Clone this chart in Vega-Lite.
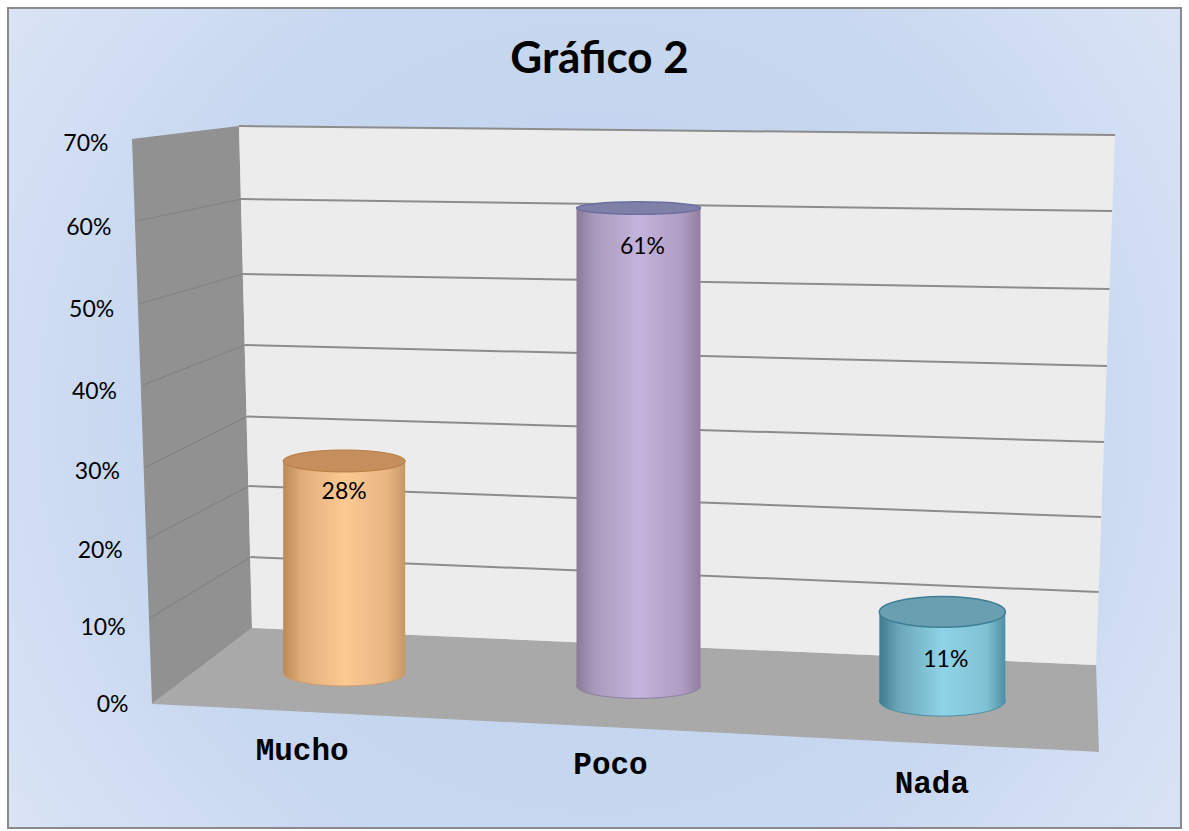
{
"$schema":"https://vega.github.io/schema/vega-lite/v6.json",
"width":1189,"height":831,"padding":0,"autosize":"none","background":"#ffffff",
"title":{"text":"Gráfico 2","font":"Lato","fontSize":44,"fontWeight":"bold","color":"#000000","anchor":"middle","frame":"group","offset":-82,"dx":5},
"datasets":{
"marco":[{"x0":8,"x1":1181,"y0":-15.47,"y1":86.85}],
"planos":[
{"superficie":"lateral","pos":132,"alto":70.5,"alto2":70.5},
{"superficie":"lateral","pos":152,"alto":70.8,"alto2":0},
{"superficie":"lateral","pos":239,"alto":72.12,"alto2":8.25},
{"superficie":"lateral","pos":252,"alto":9.48,"alto2":9.48},
{"superficie":"suelo","pos":152,"alto":0,"alto2":0},
{"superficie":"suelo","pos":252,"alto":9.48,"alto2":-0.63},
{"superficie":"suelo","pos":1096,"alto":4.87,"alto2":-5.97},
{"superficie":"suelo","pos":1099,"alto":-5.99,"alto2":-5.99},
{"superficie":"fondo","pos":239,"alto":72.12,"alto2":72.12},
{"superficie":"fondo","pos":252,"alto":72.11,"alto2":9.48},
{"superficie":"fondo","pos":1096,"alto":71.03,"alto2":4.87},
{"superficie":"fondo","pos":1115,"alto":71.0,"alto2":71.0}
],
"rejilla":[
{"nivel":70,"tramo":"fondo","pos":239,"alto":72.12},{"nivel":70,"tramo":"fondo","pos":1115,"alto":71.0},
{"nivel":60,"tramo":"lateral","pos":137,"alto":60.27},{"nivel":60,"tramo":"lateral","pos":241,"alto":63.0},
{"nivel":60,"tramo":"fondo","pos":241,"alto":63.0},{"nivel":60,"tramo":"fondo","pos":1112,"alto":61.52},
{"nivel":50,"tramo":"lateral","pos":138,"alto":49.9},{"nivel":50,"tramo":"lateral","pos":243,"alto":53.66},
{"nivel":50,"tramo":"fondo","pos":243,"alto":53.66},{"nivel":50,"tramo":"fondo","pos":1109.5,"alto":51.78},
{"nivel":40,"tramo":"lateral","pos":143,"alto":39.8},{"nivel":40,"tramo":"lateral","pos":245,"alto":44.8},
{"nivel":40,"tramo":"fondo","pos":245,"alto":44.8},{"nivel":40,"tramo":"fondo","pos":1107,"alto":42.18},
{"nivel":30,"tramo":"lateral","pos":145,"alto":29.5},{"nivel":30,"tramo":"lateral","pos":247,"alto":35.87},
{"nivel":30,"tramo":"fondo","pos":247,"alto":35.87},{"nivel":30,"tramo":"fondo","pos":1104,"alto":32.69},
{"nivel":20,"tramo":"lateral","pos":148,"alto":20.59},{"nivel":20,"tramo":"lateral","pos":249,"alto":27.2},
{"nivel":20,"tramo":"fondo","pos":249,"alto":27.2},{"nivel":20,"tramo":"fondo","pos":1101,"alto":23.33},
{"nivel":10,"tramo":"lateral","pos":149,"alto":10.66},{"nivel":10,"tramo":"lateral","pos":251,"alto":18.34},
{"nivel":10,"tramo":"fondo","pos":251,"alto":18.34},{"nivel":10,"tramo":"fondo","pos":1098.6,"alto":13.98}
],
"respuestas":[{"respuesta":"Mucho","valor":0.28},{"respuesta":"Poco","valor":0.61},{"respuesta":"Nada","valor":0.11}]
},
"layer":[
{
"encoding":{
"y":{"field":"alto","type":"quantitative","scale":{"domain":[0,70],"range":[704,143],"nice":false,"zero":false},
"axis":{"orient":"left","offset":-128,"values":[0,10,20,30,40,50,60,70],"domain":false,"ticks":false,"grid":false,"title":null,"zindex":1,"labelFont":"Lato","labelFontSize":23,"labelColor":"#000000","labelOverlap":false,"labelBound":false,"labelFlush":false,"labelPadding":{"expr":"datum.value*0.286"},"labelOffset":{"expr":"datum.value*(70-datum.value)*0.0067"},"labelExpr":"datum.value+'%'"}},
"x":{"field":"pos","type":"quantitative","scale":{"domain":[0,1189],"range":[0,1189],"nice":false,"zero":false},"axis":null}
},
"layer":[
{"data":{"name":"marco"},"mark":{"type":"rect","stroke":"#8a8a8a","strokeWidth":2,"fill":{"gradient":"radial","x1":0.5,"y1":0.5,"x2":0.5,"y2":0.5,"r1":0,"r2":0.72,"stops":[{"offset":0,"color":"#bdd0ed"},{"offset":0.55,"color":"#c8d8f0"},{"offset":1,"color":"#e4e9f8"}]}},
"encoding":{"x":{"field":"x0","type":"quantitative"},"x2":{"field":"x1"},"y":{"field":"y0","type":"quantitative"},"y2":{"field":"y1"}}},
{"data":{"name":"planos"},"transform":[{"filter":"datum.superficie==='lateral'"}],"mark":{"type":"area","color":"#919191","opacity":1},"encoding":{"y2":{"field":"alto2"}}},
{"data":{"name":"planos"},"transform":[{"filter":"datum.superficie==='suelo'"}],"mark":{"type":"area","color":"#a9a9a9","opacity":1},"encoding":{"y2":{"field":"alto2"}}},
{"data":{"name":"planos"},"transform":[{"filter":"datum.superficie==='fondo'"}],"mark":{"type":"area","color":"#ececec","opacity":1},"encoding":{"y2":{"field":"alto2"}}},
{"data":{"name":"rejilla"},"transform":[{"filter":"datum.tramo==='lateral'"}],"mark":{"type":"line","color":"#828282","strokeWidth":1.2},"encoding":{"detail":{"field":"nivel","type":"nominal"}}},
{"data":{"name":"rejilla"},"transform":[{"filter":"datum.tramo==='fondo'"}],"mark":{"type":"line","color":"#8c8c8c","strokeWidth":2},"encoding":{"detail":{"field":"nivel","type":"nominal"}}}
]
},
{
"data":{"name":"respuestas"},
"transform":[{"filter":"datum.respuesta==='Mucho'"}],
"encoding":{
"x":{"field":"respuesta","type":"nominal","sort":null,"scale":{"type":"band","domain":["Mucho","Poco","Nada"],"range":[195,1090],"padding":0},"axis":null},
"y":{"field":"valor","type":"quantitative","stack":null,"scale":{"domain":[0,0.7],"range":[673,143],"nice":false},"axis":null}
},
"layer":[
{"mark":{"type":"point","filled":true,"opacity":1,"size":14884,"shape":"M-1,0 C-1,-0.12 -0.552,-0.213 0,-0.213 C0.552,-0.213 1,-0.12 1,0 C1,0.12 0.552,0.213 0,0.213 C-0.552,0.213 -1,0.12 -1,0 Z","stroke":"#c99d72","strokeWidth":1,"fill":{"gradient":"linear","x1":0,"y1":0,"x2":1,"y2":0,"stops":[{"offset":0,"color":"#bb8a58"},{"offset":0.15,"color":"#e0ac78"},{"offset":0.5,"color":"#fdc993"},{"offset":0.85,"color":"#e8b682"},{"offset":1,"color":"#c69866"}]}},"encoding":{"y":{"datum":0}}},
{"mark":{"type":"bar","width":122,"fill":{"gradient":"linear","x1":0,"y1":0,"x2":1,"y2":0,"stops":[{"offset":0,"color":"#bb8a58"},{"offset":0.15,"color":"#e0ac78"},{"offset":0.5,"color":"#fdc993"},{"offset":0.85,"color":"#e8b682"},{"offset":1,"color":"#c69866"}]}}},
{"mark":{"type":"point","filled":true,"opacity":1,"size":14884,"shape":"M-1,0 C-1,-0.1 -0.552,-0.18 0,-0.18 C0.552,-0.18 1,-0.1 1,0 C1,0.1 0.552,0.18 0,0.18 C-0.552,0.18 -1,0.1 -1,0 Z","stroke":"#b87a40","strokeWidth":1,"fill":"#c48f5c"}},
{"mark":{"type":"text","font":"Lato","fontSize":23,"color":"#000000","dy":31},"encoding":{"text":{"field":"valor","type":"quantitative","format":".0%"}}},
{"mark":{"type":"text","font":"Liberation Mono","fontWeight":"bold","fontSize":31,"color":"#000000","dx":-42,"dy":78},"encoding":{"text":{"field":"respuesta","type":"nominal"},"y":{"datum":0}}}
]
},
{
"data":{"name":"respuestas"},
"transform":[{"filter":"datum.respuesta==='Poco'"}],
"encoding":{
"x":{"field":"respuesta","type":"nominal","sort":null,"scale":{"type":"band","domain":["Mucho","Poco","Nada"],"range":[195,1090],"padding":0},"axis":null},
"y":{"field":"valor","type":"quantitative","stack":null,"scale":{"domain":[0,0.7],"range":[686,137.5],"nice":false},"axis":null}
},
"layer":[
{"mark":{"type":"point","filled":true,"opacity":1,"size":15376,"xOffset":-4,"shape":"M-1,0 C-1,-0.11 -0.552,-0.2 0,-0.2 C0.552,-0.2 1,-0.11 1,0 C1,0.11 0.552,0.2 0,0.2 C-0.552,0.2 -1,0.11 -1,0 Z","stroke":"#8f7f9e","strokeWidth":1,"fill":{"gradient":"linear","x1":0,"y1":0,"x2":1,"y2":0,"stops":[{"offset":0,"color":"#8a7a98"},{"offset":0.15,"color":"#aa9abc"},{"offset":0.5,"color":"#c4b3dc"},{"offset":0.85,"color":"#b09cc4"},{"offset":1,"color":"#8f7f9e"}]}},"encoding":{"y":{"datum":0}}},
{"mark":{"type":"bar","width":124,"xOffset":-4,"fill":{"gradient":"linear","x1":0,"y1":0,"x2":1,"y2":0,"stops":[{"offset":0,"color":"#8a7a98"},{"offset":0.15,"color":"#aa9abc"},{"offset":0.5,"color":"#c4b3dc"},{"offset":0.85,"color":"#b09cc4"},{"offset":1,"color":"#8f7f9e"}]}}},
{"mark":{"type":"point","filled":true,"opacity":1,"size":15376,"xOffset":-4,"shape":"M-1,0 C-1,-0.055 -0.552,-0.1 0,-0.1 C0.552,-0.1 1,-0.055 1,0 C1,0.055 0.552,0.1 0,0.1 C-0.552,0.1 -1,0.055 -1,0 Z","stroke":"#6a6f9e","strokeWidth":1.5,"fill":"#7f80a8"}},
{"mark":{"type":"text","font":"Lato","fontSize":23,"color":"#000000","dy":39},"encoding":{"text":{"field":"valor","type":"quantitative","format":".0%"}}},
{"mark":{"type":"text","font":"Liberation Mono","fontWeight":"bold","fontSize":31,"color":"#000000","dx":-32,"dy":79},"encoding":{"text":{"field":"respuesta","type":"nominal"},"y":{"datum":0}}}
]
},
{
"data":{"name":"respuestas"},
"transform":[{"filter":"datum.respuesta==='Nada'"}],
"encoding":{
"x":{"field":"respuesta","type":"nominal","sort":null,"scale":{"type":"band","domain":["Mucho","Poco","Nada"],"range":[195,1090],"padding":0},"axis":null},
"y":{"field":"valor","type":"quantitative","stack":null,"scale":{"domain":[0,0.7],"range":[701,134],"nice":false},"axis":null}
},
"layer":[
{"mark":{"type":"point","filled":true,"opacity":1,"size":15876,"xOffset":1.5,"shape":"M-1,0 C-1,-0.13 -0.552,-0.24 0,-0.24 C0.552,-0.24 1,-0.13 1,0 C1,0.13 0.552,0.24 0,0.24 C-0.552,0.24 -1,0.13 -1,0 Z","stroke":"#4d8fa3","strokeWidth":1,"fill":{"gradient":"linear","x1":0,"y1":0,"x2":1,"y2":0,"stops":[{"offset":0,"color":"#3f7a8e"},{"offset":0.15,"color":"#6aa6b8"},{"offset":0.5,"color":"#8fd3e6"},{"offset":0.85,"color":"#7fc2d4"},{"offset":1,"color":"#4d8fa3"}]}},"encoding":{"y":{"datum":0}}},
{"mark":{"type":"bar","width":126,"xOffset":1.5,"fill":{"gradient":"linear","x1":0,"y1":0,"x2":1,"y2":0,"stops":[{"offset":0,"color":"#3f7a8e"},{"offset":0.15,"color":"#6aa6b8"},{"offset":0.5,"color":"#8fd3e6"},{"offset":0.85,"color":"#7fc2d4"},{"offset":1,"color":"#4d8fa3"}]}}},
{"mark":{"type":"point","filled":true,"opacity":1,"size":15876,"xOffset":1.5,"shape":"M-1,0 C-1,-0.135 -0.552,-0.245 0,-0.245 C0.552,-0.245 1,-0.135 1,0 C1,0.135 0.552,0.245 0,0.245 C-0.552,0.245 -1,0.135 -1,0 Z","stroke":"#3f7d94","strokeWidth":1.5,"fill":"#6a9fb2"}},
{"mark":{"type":"text","font":"Lato","fontSize":23,"color":"#000000","dx":5,"dy":48},"encoding":{"text":{"field":"valor","type":"quantitative","format":".0%"}}},
{"mark":{"type":"text","font":"Liberation Mono","fontWeight":"bold","fontSize":31,"color":"#000000","dx":-9,"dy":83},"encoding":{"text":{"field":"respuesta","type":"nominal"},"y":{"datum":0}}}
]
}
],
"resolve":{"scale":{"x":"independent","y":"independent"},"axis":{"x":"independent","y":"independent"}},
"config":{"view":{"stroke":null}}
}
